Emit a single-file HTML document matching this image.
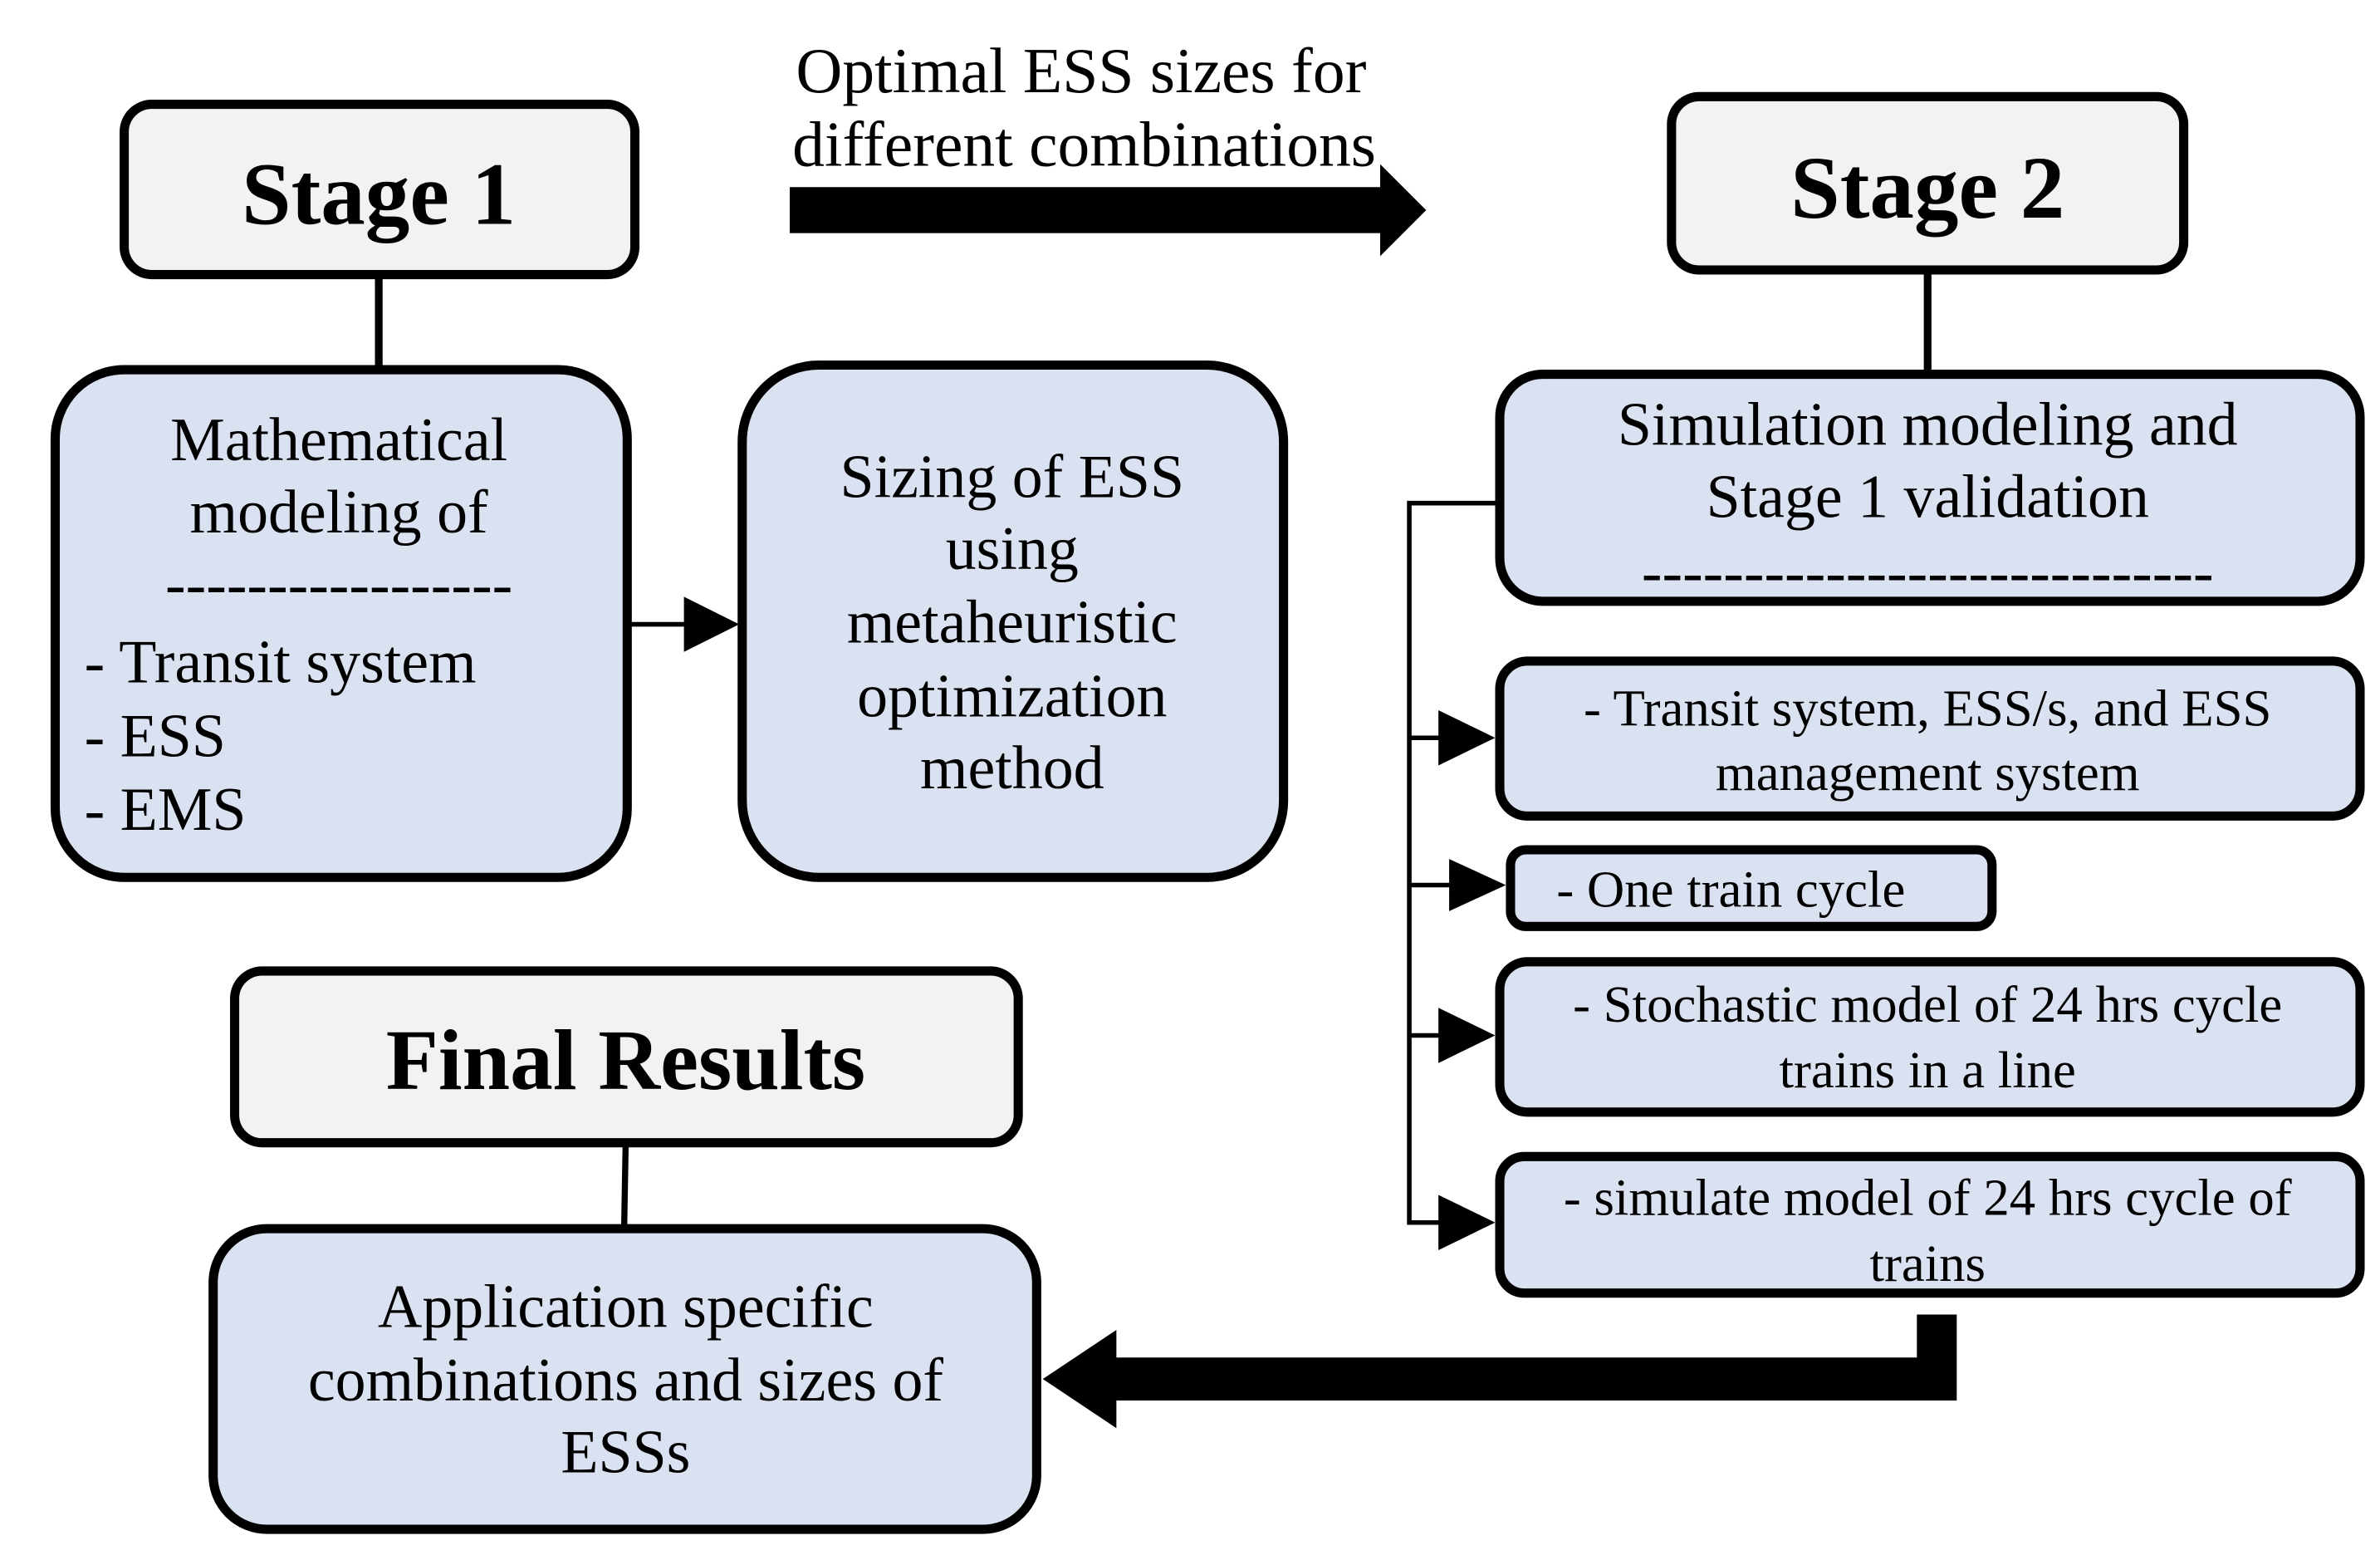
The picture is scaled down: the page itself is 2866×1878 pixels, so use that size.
<!DOCTYPE html>
<html><head><meta charset="utf-8"><style>
html,body{margin:0;padding:0;background:#fff}
svg{display:block}
text{font-family:"Liberation Serif",serif;fill:#000}
</style></head><body>
<svg width="2866" height="1878" viewBox="0 0 1552 1017" preserveAspectRatio="none" xmlns="http://www.w3.org/2000/svg">
<rect x="0" y="0" width="1552" height="1017" fill="#fff"/>
<!-- Top label -->
<text x="705" y="60" font-size="42" text-anchor="middle">Optimal ESS sizes for</text>
<text x="707" y="108" font-size="42" text-anchor="middle">different combinations</text>
<polygon points="515,122 900,122 900,107 930,137 900,167 900,152 515,152" fill="#000"/>

<!-- Stage 1 -->
<rect x="81" y="68" width="333" height="111" rx="18" fill="#f2f2f2" stroke="#000" stroke-width="6"/>
<text x="247" y="146" font-size="58" font-weight="bold" text-anchor="middle">Stage 1</text>
<line x1="247" y1="179" x2="247" y2="241" stroke="#000" stroke-width="5"/>

<rect x="36" y="241" width="373" height="331" rx="45" fill="#dae1f0" stroke="#000" stroke-width="6"/>
<text x="221" y="300" font-size="40" text-anchor="middle">Mathematical</text>
<text x="221" y="347" font-size="40" text-anchor="middle">modeling of</text>
<text x="221" y="394" font-size="40" text-anchor="middle">-----------------</text>
<text x="55" y="445" font-size="40">- Transit system</text>
<text x="55" y="493" font-size="40">- ESS</text>
<text x="55" y="541" font-size="40">- EMS</text>

<line x1="409" y1="407" x2="450" y2="407" stroke="#000" stroke-width="3"/>
<polygon points="446,389 482,407 446,425" fill="#000"/>

<rect x="484" y="238" width="353" height="334" rx="50" fill="#dae1f0" stroke="#000" stroke-width="6"/>
<text x="660" y="324" font-size="40" text-anchor="middle">Sizing of ESS</text>
<text x="660" y="371" font-size="40" text-anchor="middle">using</text>
<text x="660" y="419" font-size="40" text-anchor="middle">metaheuristic</text>
<text x="660" y="467" font-size="40" text-anchor="middle">optimization</text>
<text x="660" y="514" font-size="40" text-anchor="middle">method</text>

<!-- Stage 2 -->
<rect x="1090" y="63" width="334" height="113" rx="18" fill="#f2f2f2" stroke="#000" stroke-width="6"/>
<text x="1257" y="142" font-size="58" font-weight="bold" text-anchor="middle">Stage 2</text>
<line x1="1257" y1="176" x2="1257" y2="244" stroke="#000" stroke-width="5"/>

<rect x="978" y="244" width="561" height="148" rx="28" fill="#dae1f0" stroke="#000" stroke-width="6"/>
<text x="1257" y="290" font-size="40" text-anchor="middle">Simulation modeling and</text>
<text x="1257" y="337" font-size="40" text-anchor="middle">Stage 1 validation</text>
<text x="1257" y="386" font-size="40" text-anchor="middle">----------------------------</text>

<polyline points="977,328 919,328 919,797 945,797" fill="none" stroke="#000" stroke-width="3"/>
<line x1="919" y1="481" x2="945" y2="481" stroke="#000" stroke-width="3"/>
<polygon points="938,463 975,481 938,499" fill="#000"/>
<line x1="919" y1="577" x2="950" y2="577" stroke="#000" stroke-width="3"/>
<polygon points="945,560 982,577 945,594" fill="#000"/>
<line x1="919" y1="675" x2="945" y2="675" stroke="#000" stroke-width="3"/>
<polygon points="938,657 975,675 938,693" fill="#000"/>
<polygon points="938,779 975,797 938,815" fill="#000"/>

<rect x="978" y="431" width="561" height="101" rx="18" fill="#dae1f0" stroke="#000" stroke-width="6"/>
<text x="1257" y="473" font-size="34" text-anchor="middle">- Transit system, ESS/s, and ESS</text>
<text x="1257" y="515" font-size="34" text-anchor="middle">management system</text>

<rect x="985" y="554" width="314" height="50" rx="10" fill="#dae1f0" stroke="#000" stroke-width="6"/>
<text x="1015" y="591" font-size="34">- One train cycle</text>

<rect x="978" y="627" width="561" height="98" rx="18" fill="#dae1f0" stroke="#000" stroke-width="6"/>
<text x="1257" y="666" font-size="34" text-anchor="middle">- Stochastic model of 24 hrs cycle</text>
<text x="1257" y="709" font-size="34" text-anchor="middle">trains in a line</text>

<rect x="978" y="754" width="561" height="89" rx="16" fill="#dae1f0" stroke="#000" stroke-width="6"/>
<text x="1257" y="792" font-size="34" text-anchor="middle">- simulate model of 24 hrs cycle of</text>
<text x="1257" y="835" font-size="34" text-anchor="middle">trains</text>

<!-- Final -->
<rect x="153" y="633" width="511" height="112" rx="18" fill="#f2f2f2" stroke="#000" stroke-width="6"/>
<text x="408" y="710" font-size="56" font-weight="bold" text-anchor="middle">Final Results</text>
<line x1="408" y1="745" x2="407" y2="801" stroke="#000" stroke-width="4"/>

<rect x="139" y="801" width="537" height="196" rx="35" fill="#dae1f0" stroke="#000" stroke-width="6"/>
<text x="408" y="865" font-size="40" text-anchor="middle">Application specific</text>
<text x="408" y="913" font-size="40" text-anchor="middle">combinations and sizes of</text>
<text x="408" y="960" font-size="40" text-anchor="middle">ESSs</text>

<polygon points="1250,857 1276,857 1276,913 728,913 728,931 680,899 728,867 728,885 1250,885" fill="#000"/>
</svg>
</body></html>
